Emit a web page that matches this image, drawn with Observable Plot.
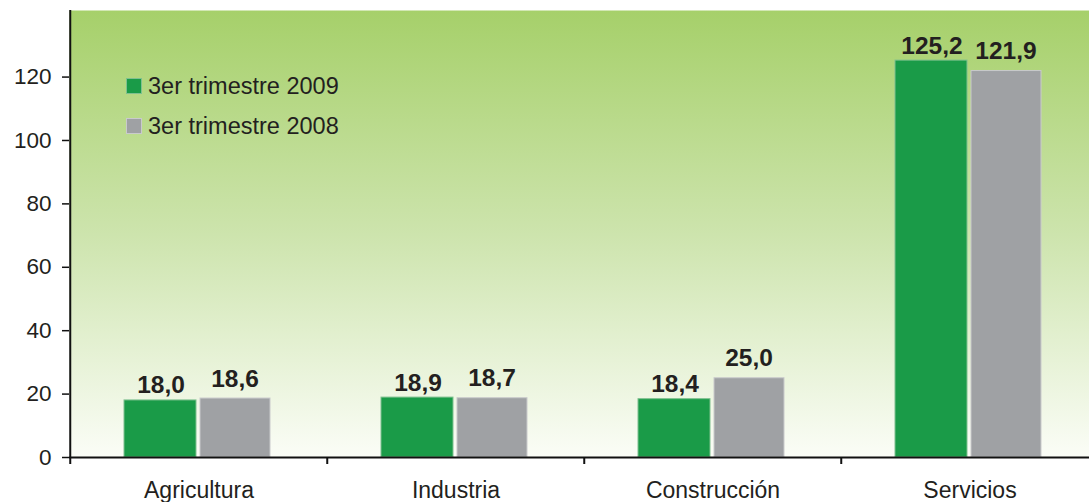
<!DOCTYPE html>
<html>
<head>
<meta charset="utf-8">
<script src="https://cdn.jsdelivr.net/npm/d3@7"></script>
<script src="https://cdn.jsdelivr.net/npm/@observablehq/plot@0.6"></script>
<style>
  html, body { margin: 0; padding: 0; background: #fff; overflow: hidden; }
  #wrap { position: relative; width: 1089px; height: 502px; }
  #legend { position: absolute; left: 126px; top: 76px; font-family: "Liberation Sans", Arial, sans-serif; font-size: 23.5px; color: #231f20; }
  .row { display: flex; align-items: center; height: 20px; margin-bottom: 20px; }
  .sw { width: 16px; height: 16px; margin-right: 6px; box-sizing: border-box; }
</style>
</head>
<body>
<div id="wrap"></div>
<script>
const categories = ["Agricultura", "Industria", "Construcción", "Servicios"];
const series = ["3er trimestre 2009", "3er trimestre 2008"];
const values2009 = [18.0, 18.9, 18.4, 125.2];
const values2008 = [18.6, 18.7, 25.0, 121.9];
const yTicks = [0, 20, 40, 60, 80, 100, 120];
const colors = ["#1a9b48", "#9fa1a4"];
const borders = ["#7fc08f", "#c9cacc"];

const d09 = categories.map((c, i) => ({cat: c, v: values2009[i]}));
const d08 = categories.map((c, i) => ({cat: c, v: values2008[i]}));
const fmt = v => v.toFixed(1).replace(".", ",");
const half = 1030 / categories.length / 2;

const chart = Plot.plot({
  width: 1089,
  height: 502,
  marginLeft: 69,
  marginRight: 0,
  marginTop: 10,
  marginBottom: 45,
  x: {domain: categories, range: [69, 1099], padding: 0},
  y: {domain: [0, 141]},
  style: {fontFamily: "'Liberation Sans', Arial, sans-serif", color: "#231f20", background: "transparent", overflow: "visible"},
  marks: [
    Plot.frame({fill: "url(#bggrad)", stroke: "none"}),
    Plot.barY(d09, {x: "cat", y: "v", fill: colors[0], stroke: borders[0], strokeWidth: 1, insetLeft: 54, insetRight: 131}),
    Plot.barY(d08, {x: "cat", y: "v", fill: colors[1], stroke: borders[1], strokeWidth: 1, insetLeft: 130, insetRight: 57}),
    Plot.text(d09, {x: "cat", y: "v", text: d => fmt(d.v), dx: -38, dy: -7, lineAnchor: "bottom", fontSize: 24.5, fontWeight: "bold", fill: "#231f20"}),
    Plot.text(d08, {x: "cat", y: "v", text: d => fmt(d.v), dx: 36, dy: -12, lineAnchor: "bottom", fontSize: 24.5, fontWeight: "bold", fill: "#231f20"}),
    Plot.ruleY([0], {stroke: "#111", strokeWidth: 2}),
    Plot.ruleX(categories.slice(0, 1), {x: d => d, dx: -half, stroke: "#111", strokeWidth: 2, insetBottom: -7}),
    Plot.ruleX(categories.slice(1), {x: d => d, dx: -half, y1: 0, y2: 0, stroke: "#111", strokeWidth: 2, insetBottom: -7}),
    Plot.axisY({ticks: yTicks, tickSize: 7, tickPadding: 11, fontSize: 22.5, tickFormat: d => d, stroke: "#111", strokeWidth: 1.5, label: null}),
    Plot.axisX({tickSize: 0, tickPadding: 24, fontSize: 23, label: null})
  ]
});

const ns = "http://www.w3.org/2000/svg";
const defs = document.createElementNS(ns, "defs");
const grad = document.createElementNS(ns, "linearGradient");
grad.setAttribute("id", "bggrad");
grad.setAttribute("x1", "0"); grad.setAttribute("y1", "0");
grad.setAttribute("x2", "0"); grad.setAttribute("y2", "1");
[["0", "#a6d06a"], ["0.5", "#cde4ad"], ["1", "#fbfdf7"]].forEach(([o, c]) => {
  const s = document.createElementNS(ns, "stop");
  s.setAttribute("offset", o); s.setAttribute("stop-color", c);
  grad.appendChild(s);
});
defs.appendChild(grad);
chart.insertBefore(defs, chart.firstChild);

const wrap = document.getElementById("wrap");
wrap.appendChild(chart);

const legend = document.createElement("div");
legend.id = "legend";
series.forEach((s, i) => {
  const row = document.createElement("div");
  row.className = "row";
  const sw = document.createElement("div");
  sw.className = "sw";
  sw.style.background = colors[i];
  sw.style.border = "1px solid " + borders[i];
  const t = document.createElement("span");
  t.textContent = s;
  row.appendChild(sw); row.appendChild(t);
  legend.appendChild(row);
});
wrap.appendChild(legend);
</script>
</body>
</html>
